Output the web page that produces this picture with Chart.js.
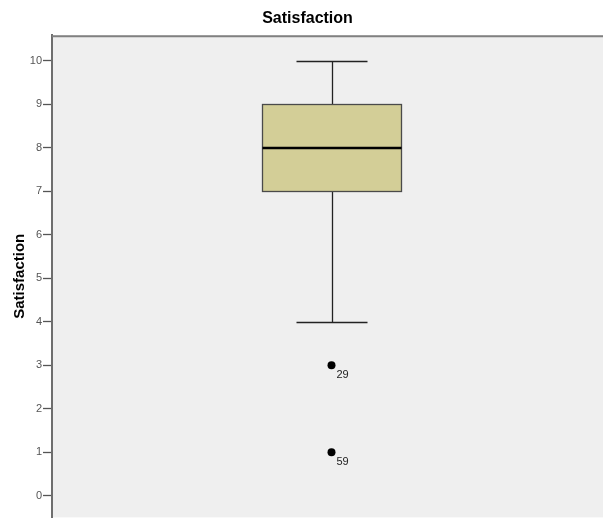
<!DOCTYPE html>
<html>
<head>
<meta charset="utf-8">
<script src="https://cdn.jsdelivr.net/npm/chart.js@4"></script>
<style>
  html, body { margin: 0; padding: 0; background: #fff; overflow: hidden; }
  #wrap { width: 603px; height: 523px; overflow: hidden; }
</style>
</head>
<body>
<div id="wrap"><canvas id="chart" width="615" height="525"></canvas></div>
<script>
// box statistics: min whisker, Q1, median, Q3, max whisker
const boxStats = [4, 7, 8, 9, 10];
const outlierValues = [3, 1];
const outlierLabels = ['29', '59'];
const yTicks = [0, 1, 2, 3, 4, 5, 6, 7, 8, 9, 10];

const FONT = "'Liberation Sans', Arial, sans-serif";
const BOX_X = 0.5;
const BOX_HALF = 0.125;
const CAP_HALF = 0.063;

const boxPlugin = {
  id: 'boxplot',
  beforeDraw(chart) {
    const { ctx, chartArea: a } = chart;
    ctx.save();
    ctx.fillStyle = '#efefef';
    ctx.fillRect(a.left, a.top, a.right - a.left, a.bottom - a.top);
    ctx.restore();
  },
  beforeDatasetsDraw(chart) {
    const { ctx } = chart;
    const x = chart.scales.x, y = chart.scales.y;
    const [mn, q1, med, q3, mx] = boxStats;
    const cx = Math.round(x.getPixelForValue(BOX_X)) + 0.5;
    const bl = Math.round(x.getPixelForValue(BOX_X - BOX_HALF)) + 0.5;
    const br = Math.round(x.getPixelForValue(BOX_X + BOX_HALF)) + 0.5;
    const cl = Math.round(x.getPixelForValue(BOX_X - CAP_HALF)) + 0.5;
    const cr = Math.round(x.getPixelForValue(BOX_X + CAP_HALF)) + 0.5;
    const py = v => Math.round(y.getPixelForValue(v)) + 0.5;

    ctx.save();
    ctx.strokeStyle = '#222';
    ctx.lineWidth = 1.3;
    // whiskers
    ctx.beginPath();
    ctx.moveTo(cx, py(mn)); ctx.lineTo(cx, py(q1));
    ctx.moveTo(cx, py(q3)); ctx.lineTo(cx, py(mx));
    ctx.moveTo(cl, py(mn)); ctx.lineTo(cr, py(mn));
    ctx.moveTo(cl, py(mx)); ctx.lineTo(cr, py(mx));
    ctx.stroke();
    // box
    ctx.fillStyle = '#d3ce97';
    ctx.fillRect(bl, py(q3), br - bl, py(q1) - py(q3));
    ctx.strokeStyle = '#4a4a4a';
    ctx.strokeRect(bl, py(q3), br - bl, py(q1) - py(q3));
    // median
    ctx.strokeStyle = '#000';
    ctx.lineWidth = 2.6;
    ctx.beginPath();
    ctx.moveTo(bl, Math.round(y.getPixelForValue(med)));
    ctx.lineTo(br, Math.round(y.getPixelForValue(med)));
    ctx.stroke();
    ctx.restore();
  },
  afterDatasetsDraw(chart) {
    const { ctx } = chart;
    const meta = chart.getDatasetMeta(0);
    ctx.save();
    ctx.fillStyle = '#222';
    ctx.font = '11px ' + FONT;
    ctx.textAlign = 'left';
    ctx.textBaseline = 'top';
    meta.data.forEach((pt, i) => {
      ctx.fillText(outlierLabels[i], pt.x + 5, pt.y + 4);
    });
    ctx.restore();
  },
  afterDraw(chart) {
    const { ctx, chartArea: a } = chart;
    ctx.save();
    ctx.strokeStyle = '#808080';
    ctx.lineWidth = 2;
    ctx.beginPath();
    ctx.moveTo(a.left, a.top + 1);
    ctx.lineTo(a.right, a.top + 1);
    ctx.stroke();
    ctx.restore();
  }
};

new Chart(document.getElementById('chart'), {
  type: 'scatter',
  data: {
    datasets: [{
      label: 'Outliers',
      data: outlierValues.map(v => ({ x: BOX_X, y: v })),
      pointRadius: 4,
      pointHoverRadius: 4,
      pointBackgroundColor: '#000',
      pointBorderColor: '#000',
      pointBorderWidth: 0
    }]
  },
  options: {
    responsive: false,
    animation: false,
    events: [],
    layout: { padding: 0 },
    plugins: {
      legend: { display: false },
      tooltip: { enabled: false },
      title: {
        display: true,
        text: 'Satisfaction',
        color: '#000',
        font: { family: FONT, size: 16, weight: 'bold' },
        padding: { top: 9, bottom: 7 }
      }
    },
    scales: {
      x: { type: 'linear', min: 0, max: 1, display: false },
      y: {
        min: -0.5,
        max: 10.59,
        afterBuildTicks(scale) {
          scale.ticks = yTicks.map(v => ({ value: v }));
        },
        afterFit(scale) { scale.width = 52; },
        grid: { drawOnChartArea: false, drawTicks: true, tickLength: 9, color: '#555', tickWidth: 1.3 },
        border: { display: true, color: '#6e6e6e', width: 2 },
        ticks: { color: '#555', font: { family: FONT, size: 11 }, padding: 1 },
        title: {
          display: true,
          text: 'Satisfaction',
          color: '#000',
          font: { family: FONT, size: 15, weight: 'bold' },
          padding: { top: 11, bottom: 4 }
        }
      }
    }
  },
  plugins: [boxPlugin]
});
</script>
</body>
</html>
